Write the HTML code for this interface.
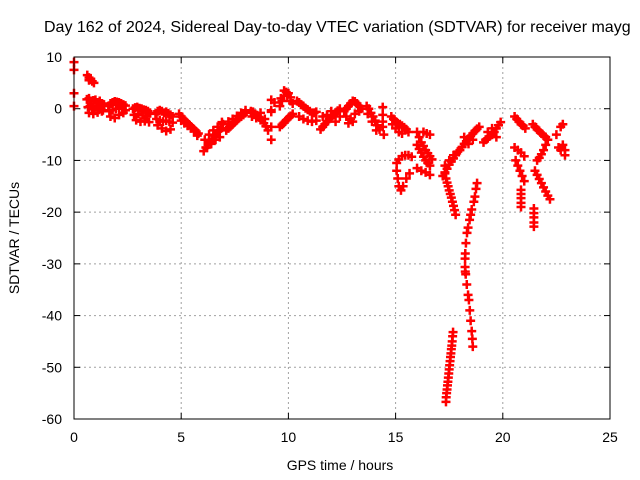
<!DOCTYPE html>
<html><head><meta charset="utf-8"><style>
html,body{margin:0;padding:0;background:#fff;overflow:hidden}
svg{display:block;font-family:"Liberation Sans",sans-serif}
</style></head><body>
<svg id="chart" width="640" height="480" viewBox="0 0 640 480" xmlns="http://www.w3.org/2000/svg">
<text x="44" y="32" font-size="16" fill="#000">Day 162 of 2024, Sidereal Day-to-day VTEC variation (SDTVAR) for receiver mayg</text>
<text transform="translate(19,238) rotate(-90)" text-anchor="middle" font-size="14">SDTVAR / TECUs</text>
<text x="340" y="470" text-anchor="middle" font-size="14">GPS time / hours</text>
<g id="grid"></g>
<g id="ticks"></g>
<g id="points"></g>
<rect x="74" y="57" width="536" height="362" fill="none" stroke="#000" stroke-width="1"/>
</svg>
<script>
const xTicks=[0,5,10,15,20,25];
const yTicks=[10,0,-10,-20,-30,-40,-50,-60];
const t0=[0,0,0,0], v0=[9,7.5,3,0.5];
const t1=[0.62,0.7,0.78,0.85,0.93,0.7], v1=[6.5,6,5.8,5.3,5,5.5];
const t2=[0.6,0.7,0.8,0.9,1.0,1.1,1.2,1.3,1.4,0.65,0.75,0.85,0.95,1.05,1.15,1.25,1.35,0.7,0.9,1.1,1.3], v2=[1.8,2,1.5,1.6,1.7,1.2,1.5,1.0,0.8,0.3,0.5,0.2,0,0.4,-0.2,0.1,-0.3,-0.8,-1,-0.7,-0.5];
const t3=[1.6,1.7,1.8,1.9,2.0,2.1,2.2,2.3,2.4,1.65,1.8,1.95,2.1,2.25,2.4,1.7,1.9,2.1,2.3], v3=[0.5,1,1.2,1.4,1.3,1.2,1,0.8,0.6,-0.5,-0.3,0,0.2,0,-0.3,-1.5,-1.8,-1.2,-0.8];
const t4=[2.75,2.85,2.95,3.05,3.15,3.25,3.35,3.45,3.55,2.8,3.0,3.2,3.4,2.9,3.1,3.3,3.5], v4=[0,0.2,0.3,0.1,0,-0.2,-0.3,-0.5,-0.8,-1.2,-1,-1.3,-1.5,-2.2,-2.5,-2.4,-2.6];
const t5=[3.8,3.9,4.0,4.1,4.2,4.3,4.4,4.5,4.6,3.85,4.0,4.15,4.3,4.45,4.6,3.9,4.1,4.3,4.5], v5=[-1,-0.5,-0.3,-0.5,-0.8,-0.6,-0.9,-1.2,-1.5,-2,-2.2,-2.5,-2.3,-2.5,-2.7,-3.2,-3.8,-4.3,-4];
const t6=[4.9,5.0,5.1,5.2,5.3,5.4,5.5,5.6,5.7,5.8,5.0,5.15,5.3,5.45,5.6,5.75], v6=[-1,-1.5,-2,-2.4,-2.8,-3.2,-3.6,-4,-4.4,-4.8,-2.3,-2.8,-3.3,-3.8,-4.3,-5.2];
const t7=[6.05,6.15,6.25,6.35,6.45,6.55,6.65,6.75,6.85,6.95,6.1,6.3,6.5,6.7,6.9,6.2,6.4,6.6,6.8], v7=[-8.2,-7.5,-7,-6.4,-5.8,-5.2,-4.8,-4.3,-3.8,-3,-6,-5,-4.2,-3.5,-2.6,-7.5,-6.8,-6,-5.5];
const t8=[7.1,7.2,7.3,7.4,7.5,7.6,7.7,7.8,7.9,8.0,7.2,7.4,7.6,7.8,8.0], v8=[-4.2,-3.8,-3.4,-3,-2.6,-2.2,-1.8,-1.5,-1.2,-0.8,-2.5,-2,-1.4,-0.8,-0.3];
const t9=[8.25,8.35,8.45,8.55,8.65,8.75,8.85,8.95,9.05,8.3,8.5,8.7,8.9], v9=[-0.5,-0.6,-1,-1.3,-1.7,-2.2,-2.8,-3.4,-4.2,-1.5,-1.8,-0.8,-2];
const t10=[9.2,9.2,9.2,9.2,9.2,9.35], v10=[1.7,-0.3,-0.6,-3.5,-6,1.2];
const t11=[9.6,9.7,9.8,9.9,10.0,10.1,10.2,9.65,9.8,9.95,10.1], v11=[0.5,1.5,2.5,3.2,3,2.2,1,2,3.5,2.5,1.5];
const t12=[9.6,9.7,9.8,9.9,10.0,10.1,10.2], v12=[-3.5,-3.1,-2.7,-2.2,-1.8,-1.4,-1];
const t13=[10.4,10.5,10.6,10.7,10.8,10.9,11.0,11.1,11.2,11.3,10.5,10.7,10.9,11.1,11.3], v13=[1.5,1.2,0.8,0.5,0.1,-0.2,-0.5,-0.8,-0.8,-0.6,-1.5,-2,-2.3,-2.5,-2.3];
const t14=[11.5,11.6,11.7,11.8,11.9,12.0,12.1,12.2,12.3,12.4,11.6,11.8,12.0,12.2,12.4], v14=[-4,-3.5,-3,-2.5,-2,-1.6,-1.2,-0.8,-0.4,0,-1.5,-1.2,-0.5,-2.5,-1.5];
const t15=[12.6,12.7,12.8,12.9,13.0,13.1,13.2,13.3,13.4,12.7,12.9,13.1,13.3,12.8,13.0], v15=[-0.5,0,0.5,1,1.5,1.4,1,0.5,0,-1.5,-2,-1,-0.5,-2.8,-2.5];
const t16=[13.65,13.75,13.85,13.95,14.05,14.15,14.25,13.7,13.9,14.1], v16=[0.5,0,-0.8,-1.5,-2.3,-3.2,-4,-1,-2.5,-4.2];
const t17=[14.4,14.4,14.4,14.4,14.45], v17=[0.3,-1.2,-2.5,-3.5,-5];
const t18=[14.8,14.9,15.0,15.1,15.2,15.3,15.4,15.5,15.6,14.85,15.0,15.15,15.3], v18=[-1.5,-2,-2.5,-2.8,-3,-3.3,-3.6,-4,-4.5,-3,-3.8,-4.5,-4.8];
const t19=[15.75,15.6,15.45,15.3,15.15,15.05,15.05,15.1,15.15,15.25,15.35,15.5,15.65], v19=[-9.3,-9,-9,-9.2,-9.8,-10.5,-12,-13.5,-15,-15.8,-15,-13.5,-12.5];
const t20=[16.0,16.1,16.2,16.3,16.4,16.5,16.6,16.7,16.0,16.1,16.2,16.3,16.4,16.5,16.6,16.0,16.2,16.4,16.6,16.3,16.45,16.6], v20=[-4.5,-5.5,-6.5,-7.2,-8,-8.6,-9.2,-9.8,-7,-7.8,-8.5,-9.3,-10,-10.5,-11,-11.5,-12,-12.3,-12.8,-4.5,-4.8,-5];
const t21=[17.2,17.3,17.4,17.5,17.6,17.7,17.8,17.9,17.3,17.5,17.7], v21=[-13,-12.3,-11.6,-10.8,-10.2,-9.6,-9,-8.3,-11,-10,-9];
const t22=[17.3,17.35,17.4,17.45,17.5,17.55,17.6,17.65,17.7,17.75,17.8], v22=[-12.5,-13.5,-14.3,-15,-15.8,-16.5,-17.2,-18,-18.8,-19.6,-20.5];
const t23=[18.8,18.75,18.7,18.65,18.55,18.5,18.45,18.38,18.33,18.28,18.25,18.24,18.24,18.25,18.27,18.32,18.38,18.42,18.46,18.5,18.55,18.58,18.6], v23=[-14.4,-15.5,-17,-18,-19.5,-20.5,-21.5,-23,-24,-26,-28,-29,-30.6,-31.5,-32,-34,-36,-37,-39,-41,-43,-44.5,-46];
const t24=[17.68,17.66,17.64,17.62,17.6,17.58,17.56,17.54,17.52,17.5,17.48,17.46,17.44,17.42,17.4,17.38,17.36,17.35], v24=[-43.2,-44,-45,-45.8,-46.5,-47.3,-48,-48.8,-49.6,-50.4,-51.2,-52,-52.8,-53.5,-54.3,-55,-55.8,-56.7];
const t25=[18.0,18.1,18.2,18.3,18.4,18.5,18.6,18.7,18.8,18.9,18.2,18.4,18.6], v25=[-8,-7.4,-6.8,-6.3,-5.8,-5.3,-4.8,-4.3,-3.9,-3.5,-5.5,-6.8,-6];
const t26=[19.1,19.2,19.3,19.4,19.5,19.6,19.7,19.8,19.9,19.3,19.5,19.7], v26=[-6.5,-6,-5.7,-5.3,-5,-4.5,-3.8,-3.2,-2.6,-4.5,-3.8,-5.5];
const t27=[20.55,20.65,20.75,20.85,20.95,21.05], v27=[-1.5,-2,-2.5,-3,-3.3,-3.8];
const t28=[20.55,20.7,20.85,21.0], v28=[-7.5,-8,-8.5,-9.2];
const t29=[20.6,20.7,20.8,20.9,21.0], v29=[-10,-11,-12,-13,-14];
const t30=[20.85,20.85,20.85,20.85,20.85], v30=[-15.7,-16.5,-17.3,-18.2,-19];
const t31=[21.4,21.5,21.6,21.7,21.8,21.9,22.0,22.1,22.0,21.9,21.8,21.7,21.6], v31=[-3,-3.5,-4,-4.3,-4.8,-5.2,-5.5,-6,-7,-8,-8.8,-9.5,-10];
const t32=[21.5,21.6,21.7,21.8,21.9,22.0,22.1,22.2], v32=[-12,-12.8,-13.6,-14.4,-15.2,-16,-16.8,-17.5];
const t33=[21.45,21.45,21.45,21.45,21.45], v33=[-19.3,-20.2,-21,-22,-22.8];
const t34=[22.5,22.7,22.8,22.8,22.7,22.9,22.9,22.6], v34=[-5,-3.5,-3,-7,-8,-8,-9,-7.5];
const seriesT=[t0,t1,t2,t3,t4,t5,t6,t7,t8,t9,t10,t11,t12,t13,t14,t15,t16,t17,t18,t19,t20,t21,t22,t23,t24,t25,t26,t27,t28,t29,t30,t31,t32,t33,t34];
const seriesV=[v0,v1,v2,v3,v4,v5,v6,v7,v8,v9,v10,v11,v12,v13,v14,v15,v16,v17,v18,v19,v20,v21,v22,v23,v24,v25,v26,v27,v28,v29,v30,v31,v32,v33,v34];

const X0=74,X1=610,Y0=57,Y1=419;
function xs(t){return X0+(t-0)/(25-0)*(X1-X0);}
function ys(v){return Y0+(10-v)/(10-(-60))*(Y1-Y0);}
const NS='http://www.w3.org/2000/svg';
function mk(tag,attrs,parent){const e=document.createElementNS(NS,tag);for(const k in attrs)e.setAttribute(k,attrs[k]);parent.appendChild(e);return e;}
const grid=document.getElementById('grid'),ticks=document.getElementById('ticks'),pts=document.getElementById('points');
xTicks.forEach(t=>{const x=xs(t);
  if(t>0&&t<25){const g=mk('line',{x1:x,y1:Y0,x2:x,y2:Y1,stroke:'#a0a0a0','stroke-dasharray':'2,3','stroke-width':1},grid);
  
  }
  mk('line',{x1:x,y1:Y1,x2:x,y2:Y1-6,stroke:'#000'},ticks);mk('line',{x1:x,y1:Y0,x2:x,y2:Y0+6,stroke:'#000'},ticks);
  const l=mk('text',{x:x,y:Y1+23,'text-anchor':'middle','font-size':14},ticks);l.textContent=t;
  
  
});
yTicks.forEach(v=>{const y=ys(v);
  if(v<10&&v>-60){const g=mk('line',{x1:X0,y1:y,x2:X1,y2:y,stroke:'#a0a0a0','stroke-dasharray':'2,3','stroke-width':1},grid);
  
  }
  mk('line',{x1:X0,y1:y,x2:X0+6,y2:y,stroke:'#000'},ticks);mk('line',{x1:X1,y1:y,x2:X1-6,y2:y,stroke:'#000'},ticks);
  const l=mk('text',{x:X0-12,y:y+5,'text-anchor':'end','font-size':14},ticks);l.textContent=v;
  
  
});
for(let s=0;s<seriesT.length;s++){const T=seriesT[s],V=seriesV[s];
  for(let i=0;i<T.length;i++){const x=xs(T[i]),y=ys(V[i]);
    const p=mk('path',{d:`M${x-4.5},${y}H${x+4.5}M${x},${y-4.5}V${y+4.5}`,stroke:'#ff0000','stroke-width':2.5,fill:'none'},pts);
    
    
  }}
</script>
</body></html>
